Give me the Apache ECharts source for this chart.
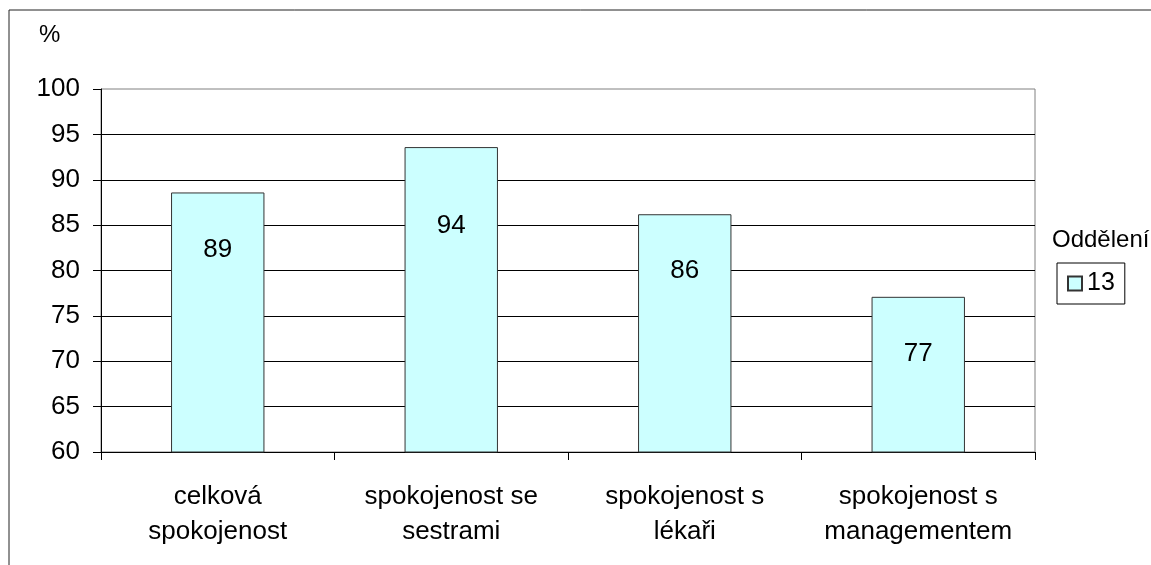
<!DOCTYPE html>
<html>
<head>
<meta charset="utf-8">
<script src="https://cdn.jsdelivr.net/npm/echarts@6/dist/echarts.min.js"></script>
<style>html,body{margin:0;padding:0;background:#fff}#c{width:1151px;height:565px}</style>
</head>
<body>
<div id="c"></div>
<script>
const categories = ['celková\nspokojenost', 'spokojenost se\nsestrami', 'spokojenost s\nlékaři', 'spokojenost s\nmanagementem'];
const values = [88.6, 93.6, 86.2, 77.1];
const labels = ['89', '94', '86', '77'];
const seriesName = '13';
const legendTitle = 'Oddělení';
const yUnit = '%';

const FONT = '"Liberation Sans", Arial, sans-serif';
const FS = 26;
const chart = echarts.init(document.getElementById('c'));
chart.setOption({
  animation: false,
  backgroundColor: '#fff',
  textStyle: { fontFamily: FONT, color: '#000' },
  grid: { left: 101, right: 116, top: 89, bottom: 113, show: true, borderColor: '#808080', borderWidth: 1 },
  graphic: [
    { type: 'rect', shape: { x: 9, y: 10, width: 1200, height: 600 }, style: { fill: 'none', stroke: '#222', lineWidth: 1 }, silent: true, z: -1 },
    { type: 'text', left: 39, top: 23, style: { text: yUnit, fontSize: 24, fontFamily: FONT, fill: '#000' } },
    { type: 'text', left: 1052, top: 228, style: { text: legendTitle, fontSize: 24, fontFamily: FONT, fill: '#000' } }
  ],
  legend: {
    left: 1057, top: 263,
    orient: 'vertical',
    itemWidth: 14, itemHeight: 14, itemGap: 0,
    padding: [8, 10, 8, 10],
    borderColor: '#000', borderWidth: 1,
    icon: 'rect',
    textStyle: { fontSize: 25, fontFamily: FONT, color: '#000' },
    data: [seriesName]
  },
  xAxis: {
    type: 'category',
    data: categories,
    axisLine: { lineStyle: { color: '#000', width: 1 } },
    axisTick: { show: true, length: 8, lineStyle: { color: '#000' } },
    axisLabel: { fontSize: FS, fontFamily: FONT, color: '#000', lineHeight: 35, margin: 27, interval: 0 }
  },
  yAxis: {
    type: 'value',
    min: 60, max: 100, interval: 5,
    axisLine: { show: true, lineStyle: { color: '#000', width: 1 } },
    axisTick: { show: true, length: 8, lineStyle: { color: '#000' } },
    axisLabel: { fontSize: FS, fontFamily: FONT, color: '#000', margin: 21 },
    splitLine: { show: true, showMaxLine: false, lineStyle: { color: '#000', width: 1 } }
  },
  series: [{
    name: seriesName,
    type: 'bar',
    barCategoryGap: '60%',
    itemStyle: { color: '#CCFFFF', borderColor: '#333', borderWidth: 1 },
    label: {
      show: true, position: 'insideTop', distance: 44,
      fontSize: FS, fontFamily: FONT, color: '#000',
      formatter: p => labels[p.dataIndex]
    },
    data: values.map((v, i) => i === 1 ? { value: v, label: { distance: 66 } } : v)
  }]
});
</script>
</body>
</html>
